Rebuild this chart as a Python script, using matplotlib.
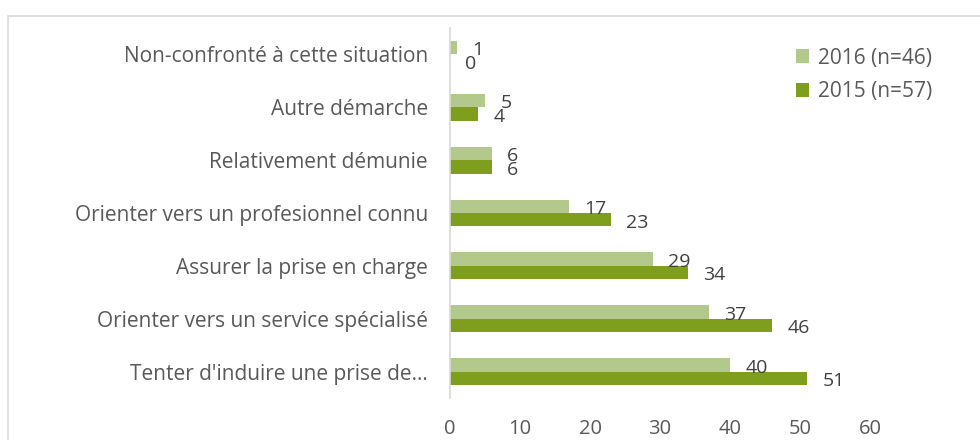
import matplotlib.pyplot as plt
import numpy as np
from matplotlib.patches import Rectangle

# Données du graphique
categories = ["Non-confronté à cette situation", "Autre démarche", "Relativement démunie",
              "Orienter vers un profesionnel connu", "Assurer la prise en charge",
              "Orienter vers un service spécialisé", "Tenter d'induire une prise de…"]
val_2016 = [1, 5, 6, 17, 29, 37, 40]
val_2015 = [0, 4, 6, 23, 34, 46, 51]
labels = ["2016 (n=46)", "2015 (n=57)"]
couleurs = ["#B3C98B", "#809E1D"]
gris = "#595959"

plt.rcParams['font.family'] = ['Open Sans', 'DejaVu Sans']

fig = plt.figure(figsize=(9.8, 4.4), dpi=100)
ax = fig.add_axes([450 / 980, 42 / 440, 420 / 980, 370 / 440])

# cadre du graphique
fig.patches.append(Rectangle((8 / 980, -0.1), 1.2, (440 - 16) / 440 + 0.1, transform=fig.transFigure,
                             fill=False, edgecolor="#D9D9D9", linewidth=1.2))

y = np.arange(len(categories))
h = 0.255
b1 = ax.barh(y - h / 2, val_2016, height=h, color=couleurs[0], label=labels[0])
b2 = ax.barh(y + h / 2, val_2015, height=h, color=couleurs[1], label=labels[1])

for bars, vals in ((b1, val_2016), (b2, val_2015)):
    for r, v in zip(bars, vals):
        ax.annotate(str(v), (v, r.get_y() + r.get_height() / 2), xytext=(11, -2),
                    textcoords="offset points", ha="left", va="center",
                    fontsize=14, color="#404040")

ax.set_xlim(0, 60)
ax.set_ylim(len(categories) - 0.5, -0.5)
ax.set_xticks(range(0, 61, 10))
ax.set_yticks(y)
ax.set_yticklabels(categories)
ax.tick_params(axis="x", length=0, labelsize=14.5, labelcolor=gris, pad=15)
ax.tick_params(axis="y", length=0, labelsize=15, labelcolor=gris, pad=16)
for s in ("top", "right", "bottom"):
    ax.spines[s].set_visible(False)
ax.spines["left"].set_color("#D9D9D9")
ax.spines["left"].set_linewidth(1.2)

leg = ax.legend(loc="upper left", bbox_to_anchor=(777 / 980, 411 / 440), bbox_transform=fig.transFigure,
                frameon=False, fontsize=15, handlelength=0.65, handleheight=0.65, handletextpad=0.4,
                labelspacing=0.6)
for t in leg.get_texts():
    t.set_color(gris)

fig.savefig("out.png", dpi=100)
